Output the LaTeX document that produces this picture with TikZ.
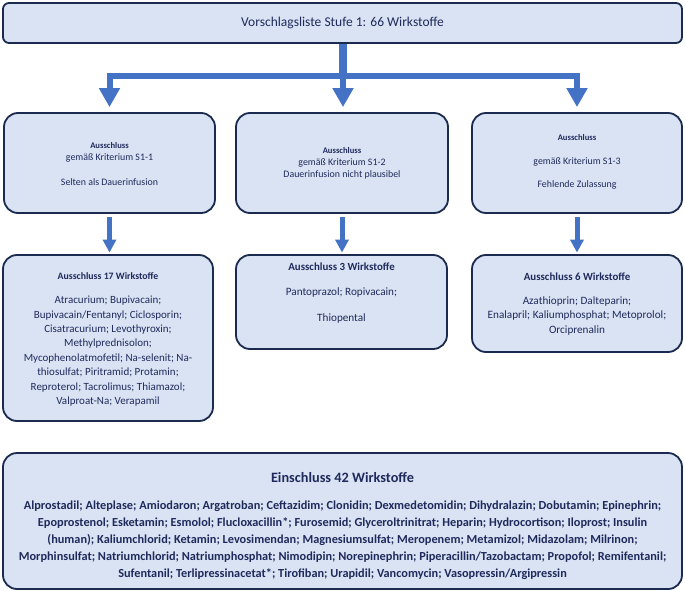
\documentclass[tikz,border=0pt]{standalone}
\usepackage{fontspec}
\setmainfont{Carlito}
\usetikzlibrary{arrows.meta}
\definecolor{boxfill}{HTML}{DAE3F3}
\definecolor{boxline}{HTML}{1B2B50}
\definecolor{txt}{HTML}{1F2A5C}
\definecolor{arr}{HTML}{4472C4}
\begin{document}
\begin{tikzpicture}[x=1pt,y=-1pt,
  box/.style={draw=boxline, fill=boxfill, line width=1.8pt, rounded corners=14pt, inner sep=0pt},
  lbl/.style={text=txt, align=center, inner sep=0pt},
  bigarrow/.style={draw=arr, line width=6pt, line join=miter, -{Triangle[width=20pt,length=19pt]}, shorten >=5pt},
  smallarrow/.style={draw=arr, line width=5pt, -{Triangle[width=13pt,length=13pt]}, shorten >=1.5pt, shorten <=3pt}]
\useasboundingbox (0,0) rectangle (685,591);
% boxes
\node[box, rounded corners=6pt, minimum width=679pt, minimum height=40pt] (top) at (342.5,23) {};
\node[box, minimum width=211pt, minimum height=100pt] (b1) at (109.5,163) {};
\node[box, minimum width=212pt, minimum height=100pt] (b2) at (342,163) {};
\node[box, minimum width=210pt, minimum height=100pt] (b3) at (577,163) {};
\node[box, minimum width=210pt, minimum height=166pt] (b4) at (108,338) {};
\node[box, minimum width=211pt, minimum height=94pt] (b5) at (341.5,302) {};
\node[box, minimum width=210pt, minimum height=97pt] (b6) at (577,303.5) {};
\node[box, minimum width=679pt, minimum height=136pt] (b7) at (342.5,521) {};
% texts
\node[lbl, font=\fontsize{13.5}{16}\selectfont] (ttop) at (top.center) {Vorschlagsliste Stufe 1: 66 Wirkstoffe};
\node[lbl, font=\fontsize{9.9}{12}\selectfont] (t1) at (109.5,164.5) {{\fontsize{8.6}{12}\selectfont\bfseries Ausschluss}\\gemäß Kriterium S1-1\\[13pt]Selten als Dauerinfusion};
\node[lbl, font=\fontsize{9.9}{12}\selectfont] (t2) at (342,163) {{\fontsize{8.6}{12}\selectfont\bfseries Ausschluss}\\gemäß Kriterium S1-2\\Dauerinfusion nicht plausibel};
\node[lbl, font=\fontsize{9.9}{12}\selectfont] (t3) at (577,162) {{\fontsize{8.6}{12}\selectfont\bfseries Ausschluss}\\[11.5pt]gemäß Kriterium S1-3\\[11.5pt]Fehlende Zulassung};
\node[lbl, font=\fontsize{11}{14.4}\selectfont] (t4) at (108,339.5) {{\fontsize{9.8}{14.4}\selectfont\bfseries Ausschluss 17 Wirkstoffe}\\[9.6pt]Atracurium; Bupivacain;\\Bupivacain/Fentanyl; Ciclosporin;\\Cisatracurium; Levothyroxin;\\Methylprednisolon;\\Mycophenolatmofetil; Na-selenit; Na-\\thiosulfat; Piritramid; Protamin;\\Reproterol; Tacrolimus; Thiamazol;\\Valproat-Na; Verapamil};
\node[lbl, font=\fontsize{11.2}{14.4}\selectfont] (t5) at (341.5,293) {{\fontsize{10.9}{14.4}\selectfont\bfseries Ausschluss 3 Wirkstoffe}\\[11pt]Pantoprazol; Ropivacain;\\[11.5pt]Thiopental};
\node[lbl, font=\fontsize{11.2}{14.4}\selectfont] (t6) at (577,304) {{\fontsize{10.9}{14.4}\selectfont\bfseries Ausschluss 6 Wirkstoffe}\\[9.6pt]Azathioprin; Dalteparin;\\Enalapril; Kaliumphosphat; Metoprolol;\\Orciprenalin};
\node[lbl, font=\fontsize{12.3}{17}\selectfont\bfseries] (t7) at (342.5,526.5) {{\fontsize{14.3}{17}\selectfont Einschluss 42 Wirkstoffe}\\[10pt]Alprostadil; Alteplase; Amiodaron; Argatroban; Ceftazidim; Clonidin; Dexmedetomidin; Dihydralazin; Dobutamin; Epinephrin;\\Epoprostenol; Esketamin; Esmolol; Flucloxacillin*; Furosemid; Glyceroltrinitrat; Heparin; Hydrocortison; Iloprost; Insulin\\(human); Kaliumchlorid; Ketamin; Levosimendan; Magnesiumsulfat; Meropenem; Metamizol; Midazolam; Milrinon;\\Morphinsulfat; Natriumchlorid; Natriumphosphat; Nimodipin; Norepinephrin; Piperacillin/Tazobactam; Propofol; Remifentanil;\\Sufentanil; Terlipressinacetat*; Tirofiban; Urapidil; Vancomycin; Vasopressin/Argipressin};
% connectors
\coordinate (split) at (343,76);
\draw[draw=arr, line width=8pt] (top.south -| split) -- (split);
\draw[bigarrow] (split) -| (b1.north);
\draw[bigarrow] (split) -| (b3.north);
\draw[bigarrow] (split) -- (split |- b2.north);
\draw[smallarrow] (b1.south) -- (b1.south |- b4.north);
\draw[smallarrow] (b2.south) -- (b2.south |- b5.north);
\draw[smallarrow] (b3.south) -- (b3.south |- b6.north);
\end{tikzpicture}
\end{document}
